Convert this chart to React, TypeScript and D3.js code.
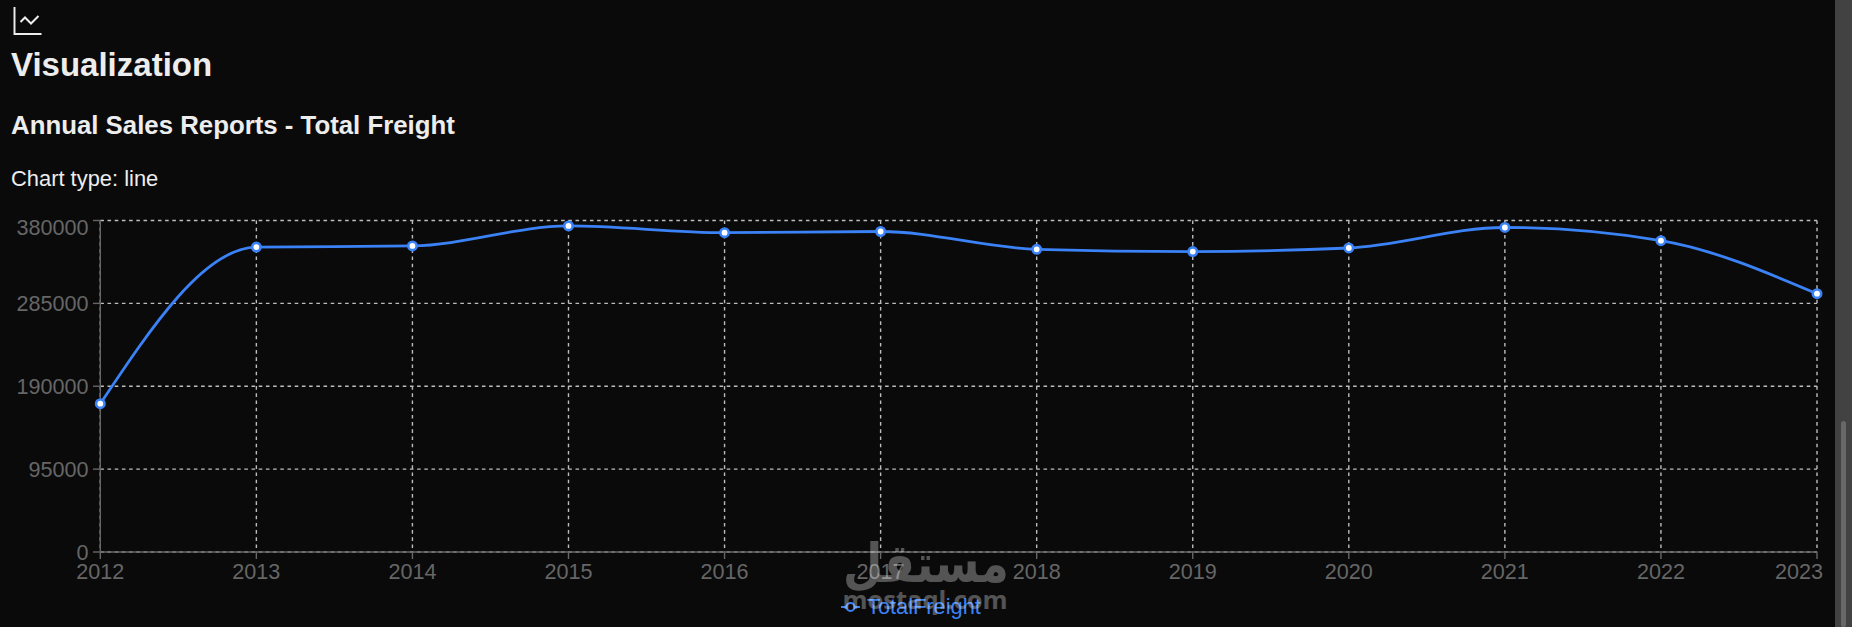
import React from "react";
import * as d3 from "d3";

const W = 1852;
const H = 627;
const years = ["2012","2013","2014","2015","2016","2017","2018","2019","2020","2021","2022","2023"];
const totalFreight = [170000,349500,350800,373800,366000,367400,347000,344400,348500,372000,356900,296100];
const yTicks = [0,95000,190000,285000,380000];
const BLUE = "#3b82f6";
const GRID = "#bdbdbd";
const AXIS = "#666666";

export default function App() {
  const x = d3.scalePoint<string>().domain(years).range([100.3, 1817]);
  const y = d3.scaleLinear().domain([0, 380000]).range([552, 220.5]);
  const line = d3.line<number>()
    .x((_, i) => x(years[i]) as number)
    .y((d) => y(d))
    .curve(d3.curveMonotoneX);
  const font = "'Liberation Sans', Arial, sans-serif";
  return (
    <svg width={W} height={H} viewBox={`0 0 ${W} ${H}`} style={{ position: "fixed", left: 0, top: 0, display: "block" }} fontFamily={font}>
      <rect width={W} height={H} fill="#0a0a0a" />
      <rect x={1835} width={17} height={H} fill="#424242" />
      <rect x={1841} y={421} width={5} height={H - 421} rx={2.5} fill="#686868" />
      <g transform="translate(10,2.5) scale(1.5)" fill="none" stroke="#ededed" strokeWidth={1.3}>
        <path d="M3 3v18h18" />
        <path d="m19 9-5 5-4-4-3 3" />
      </g>
      <text x={11} y={76} fontSize={33} fontWeight={700} fill="#ededed">Visualization</text>
      <text x={11} y={134} fontSize={25.8} fontWeight={700} fill="#ededed">Annual Sales Reports - Total Freight</text>
      <text x={11} y={186} fontSize={21.9} fill="#ededed">Chart type: line</text>
      <g stroke={GRID} strokeWidth={1.4} strokeDasharray="3.6 3.6" fill="none">
        {yTicks.map((t) => <line key={t} x1={100.3} x2={1817} y1={y(t)} y2={y(t)} />)}
        {years.map((c) => <line key={c} x1={x(c)} x2={x(c)} y1={220.5} y2={552} />)}
      </g>
      <g stroke={AXIS} strokeWidth={1.4}>
        <line x1={100.3} x2={100.3} y1={220.5} y2={552} />
        <line x1={100.3} x2={1817} y1={552} y2={552} />
        {yTicks.map((t) => <line key={t} x1={93} x2={100.3} y1={y(t)} y2={y(t)} />)}
        {years.map((c) => <line key={c} x1={x(c)} x2={x(c)} y1={552} y2={559} />)}
      </g>
      <g fontSize={21.6} fill={AXIS}>
        {yTicks.map((t) => <text key={t} x={88.5} y={y(t) + (t === 380000 ? 14.5 : 7.5)} textAnchor="end">{t}</text>)}
        {years.map((c, i) => <text key={c} x={i === years.length - 1 ? 1799 : x(c)} y={579} textAnchor="middle">{c}</text>)}
      </g>
      <path d={line(totalFreight) ?? ""} fill="none" stroke={BLUE} strokeWidth={2.8} />
      {totalFreight.map((v, i) => (
        <circle key={years[i]} cx={x(years[i])} cy={y(v)} r={4.2} fill="#ffffff" stroke={BLUE} strokeWidth={2.6} />
      ))}
      <g stroke={BLUE} strokeWidth={2} fill="none">
        <line x1={841} x2={860} y1={607} y2={607} />
        <circle cx={850.5} cy={607} r={4} fill="#0a0a0a" />
      </g>
      <text x={867} y={614} fontSize={21.8} fill={BLUE}>TotalFreight</text>
      <g fill="#ffffff" opacity={0.3}>
        <text transform="translate(926,582) scale(0.84,1)" textAnchor="middle" fontFamily="'DejaVu Sans'" fontWeight={700} fontSize={54}>مستقل</text>
        <text x={925} y={609} textAnchor="middle" fontFamily="'Open Sans', sans-serif" fontWeight={700} fontSize={25.5}>mostaql.com</text>
      </g>
    </svg>
  );
}
